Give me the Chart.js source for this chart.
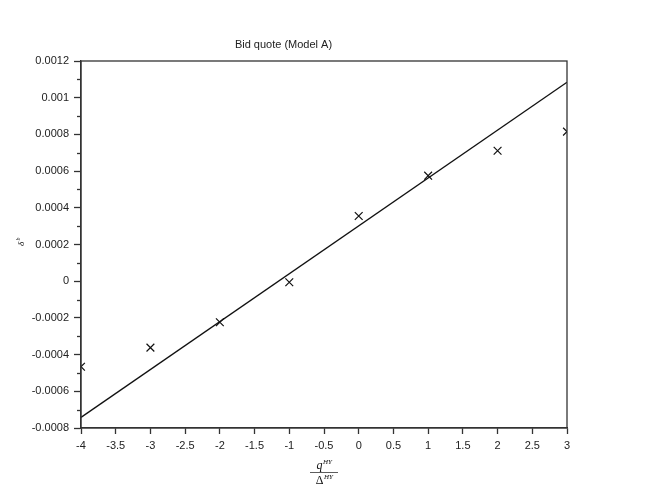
<!DOCTYPE html>
<html>
<head>
<meta charset="utf-8">
<script src="https://cdn.jsdelivr.net/npm/chart.js@4"></script>
<style>
  html, body { margin: 0; padding: 0; background: #fff; }
  #wrap { width: 648px; height: 489px; }
</style>
</head>
<body>
<div id="wrap"><canvas id="grafico"></canvas></div>
<script>
// datos
const inventario = [-4, -3, -2, -1, 0, 1, 2, 3]
const cotizacion = [-0.000466, -0.000362, -0.000224, -0.000006, 0.000355, 0.000575, 0.000711, 0.000815]
const ajusteX = [-4, 3]
const ajusteY = [-0.000742, 0.001084]

const fuente = '"Liberation Sans", Arial, sans-serif'
const esMayor = v => Math.round(v * 1e4) % 2 === 0

// ticks menores del eje y y etiquetas de ejes
const extras = {
    id: 'extras',
    afterDraw(chart) {
        const {ctx, chartArea, scales} = chart
        const y = scales.y
        ctx.save()
        ctx.strokeStyle = '#333'
        ctx.lineWidth = 1.3
        y.ticks.forEach(t => {
            if (!esMayor(t.value)) {
                const py = Math.round(y.getPixelForValue(t.value)) + 0.5
                ctx.beginPath()
                ctx.moveTo(chartArea.left - 4, py)
                ctx.lineTo(chartArea.left, py)
                ctx.stroke()
            }
        })
        // caja
        ctx.strokeRect(chartArea.left, chartArea.top, chartArea.right - chartArea.left, chartArea.bottom - chartArea.top)

        // etiqueta eje x: q^HY / Δ^HY
        const cx = (chartArea.left + chartArea.right) / 2
        ctx.fillStyle = '#111'
        ctx.textBaseline = 'alphabetic'
        ctx.font = 'italic 12px "Liberation Serif", serif'
        const qW = ctx.measureText('q').width
        ctx.font = 'italic 7px "Liberation Serif", serif'
        const hyW = ctx.measureText('HY').width
        let x0 = cx - (qW + hyW) / 2
        ctx.textAlign = 'left'
        ctx.font = 'italic 12px "Liberation Serif", serif'
        ctx.fillText('q', x0, 469)
        ctx.font = 'italic 7px "Liberation Serif", serif'
        ctx.fillText('HY', x0 + qW + 0.5, 464)
        ctx.beginPath()
        ctx.moveTo(cx - 14, 472.5)
        ctx.lineTo(cx + 14, 472.5)
        ctx.lineWidth = 0.8
        ctx.stroke()
        ctx.font = '12px "Liberation Serif", serif'
        const dW = ctx.measureText('Δ').width
        x0 = cx - (dW + hyW) / 2
        ctx.fillText('Δ', x0, 484)
        ctx.font = 'italic 7px "Liberation Serif", serif'
        ctx.fillText('HY', x0 + dW + 0.5, 479)

        // etiqueta eje y: δ^b
        ctx.translate(21, 242)
        ctx.rotate(-Math.PI / 2)
        ctx.textAlign = 'center'
        ctx.font = 'italic 9px "Liberation Serif", serif'
        ctx.fillText('δ', -2, 3)
        ctx.font = 'italic 6px "Liberation Serif", serif'
        ctx.fillText('b', 3, -1)
        ctx.restore()
    }
}

new Chart(document.getElementById('grafico'), {
    type: 'scatter',
    data: {
        datasets: [
            {
                label: 'Cotizacion',
                data: inventario.map((x, i) => ({x, y: cotizacion[i]})),
                pointStyle: 'crossRot',
                pointRadius: 5.5,
                pointBorderWidth: 1.2,
                borderColor: '#111',
                backgroundColor: '#111',
                showLine: false
            },
            {
                label: 'Ajuste',
                data: ajusteX.map((x, i) => ({x, y: ajusteY[i]})),
                showLine: true,
                pointRadius: 0,
                borderColor: '#111',
                borderWidth: 1.3
            }
        ]
    },
    options: {
        responsive: true,
        maintainAspectRatio: false,
        animation: false,
        layout: { padding: { left: 0, right: 81, top: 0, bottom: 0 } },
        plugins: {
            legend: { display: false },
            tooltip: { enabled: false },
            title: {
                display: true,
                text: 'Bid quote (Model A)',
                color: '#222',
                font: { family: fuente, size: 11, weight: 'normal', lineHeight: 1.2 },
                padding: { top: 38, bottom: 9.8 }
            }
        },
        scales: {
            x: {
                type: 'linear',
                min: -4,
                max: 3,
                ticks: {
                    stepSize: 0.5,
                    autoSkip: false,
                    maxRotation: 0,
                    color: '#222',
                    padding: 5,
                    font: { family: fuente, size: 11 },
                    callback: v => parseFloat(v.toFixed(1)).toString()
                },
                grid: { drawOnChartArea: false, tickLength: 6, tickColor: '#333', tickWidth: 1.3 },
                border: { color: '#333', width: 1.3 },
                afterFit: s => { s.height = 61 }
            },
            y: {
                type: 'linear',
                min: -0.0008,
                max: 0.0012,
                ticks: {
                    stepSize: 0.0001,
                    autoSkip: false,
                    color: '#222',
                    padding: 5,
                    font: { family: fuente, size: 11 },
                    callback: v => esMayor(v) ? parseFloat(v.toFixed(4)).toString() : ''
                },
                grid: {
                    drawOnChartArea: false,
                    tickLength: 7,
                    tickWidth: 1.3,
                    tickColor: c => (c.tick && esMayor(c.tick.value)) ? '#333' : 'rgba(0,0,0,0)'
                },
                border: { color: '#333', width: 1.3 },
                afterFit: s => { s.width = 81 }
            }
        }
    },
    plugins: [extras]
})
</script>
</body>
</html>
